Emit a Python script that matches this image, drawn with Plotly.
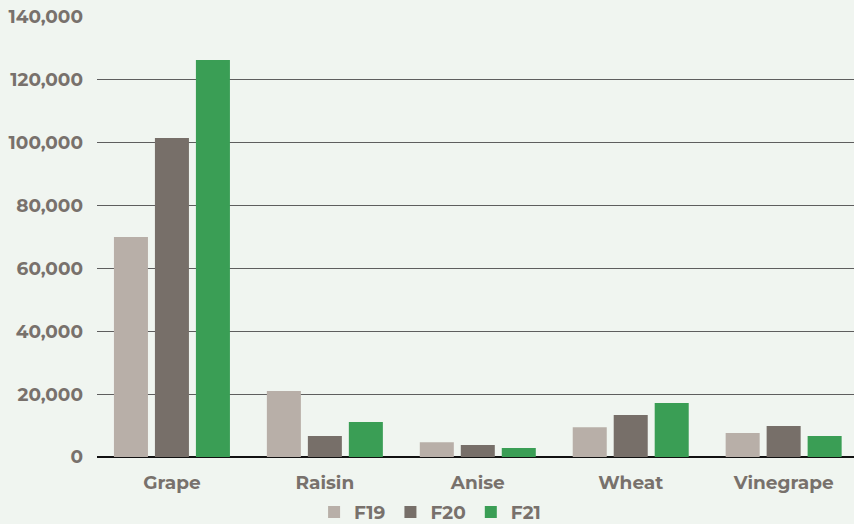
import plotly.graph_objects as go

categories = ["Grape", "Raisin", "Anise", "Wheat", "Vinegrape"]
f19 = [70000, 21000, 4700, 9500, 7600]
f20 = [101500, 6700, 3800, 13400, 9900]
f21 = [126300, 11100, 2900, 17200, 6700]
series_names = ["F19", "F20", "F21"]
y_ticks = [0, 20000, 40000, 60000, 80000, 100000, 120000, 140000]

colors = ["#b8afa8", "#776f69", "#3a9e55"]
legend_colors = ["#c9c2bd", "#8b8078", "#00874b"]
text_color = "#78716c"
font_family = "Montserrat, Inter, 'Open Sans', sans-serif"
fs = 18.5

fig = go.Figure()
for name, vals, col in zip(series_names, [f19, f20, f21], colors):
    fig.add_trace(go.Bar(
        x=categories, y=vals, name=name,
        marker=dict(color=col, line=dict(width=0)),
        hoverinfo="x+y+name",
    ))

fig.update_layout(
    width=854, height=524,
    margin=dict(l=97, r=0, t=17, b=67, autoexpand=False),
    paper_bgcolor="#f0f5f0",
    plot_bgcolor="#f0f5f0",
    barmode="group",
    bargap=0.196,
    bargroupgap=0.17,
    font=dict(family=font_family, size=fs, color=text_color, weight=700),
    showlegend=True,
    legend=dict(
        orientation="h", x=0.44, xanchor="center", y=-0.083, yanchor="top",
        font=dict(family=font_family, size=fs, color=text_color, weight=700),
        bgcolor="rgba(0,0,0,0)", itemwidth=30, traceorder="normal",
        itemclick=False,
    ),
    xaxis=dict(
        range=[-0.49, 4.46], showgrid=False, zeroline=False, showline=False,
        ticks="", ticklabelstandoff=12, automargin=False,
        tickfont=dict(family=font_family, size=fs, color=text_color, weight=700),
        fixedrange=True,
    ),
    yaxis=dict(
        range=[0, 140000], tickvals=y_ticks, tickformat=",d",
        showgrid=True, gridcolor="#5e5e5e", gridwidth=1.3,
        zeroline=True, zerolinecolor="#111111", zerolinewidth=1.5,
        showline=False, ticks="", ticklabelstandoff=13, automargin=False,
        tickfont=dict(family=font_family, size=fs, color=text_color, weight=700),
        fixedrange=True,
    ),
)

fig.write_html(
    "out.html",
    config={"displayModeBar": False},
    post_script="document.body.style.margin='0';document.body.style.background='#f0f5f0';",
)
